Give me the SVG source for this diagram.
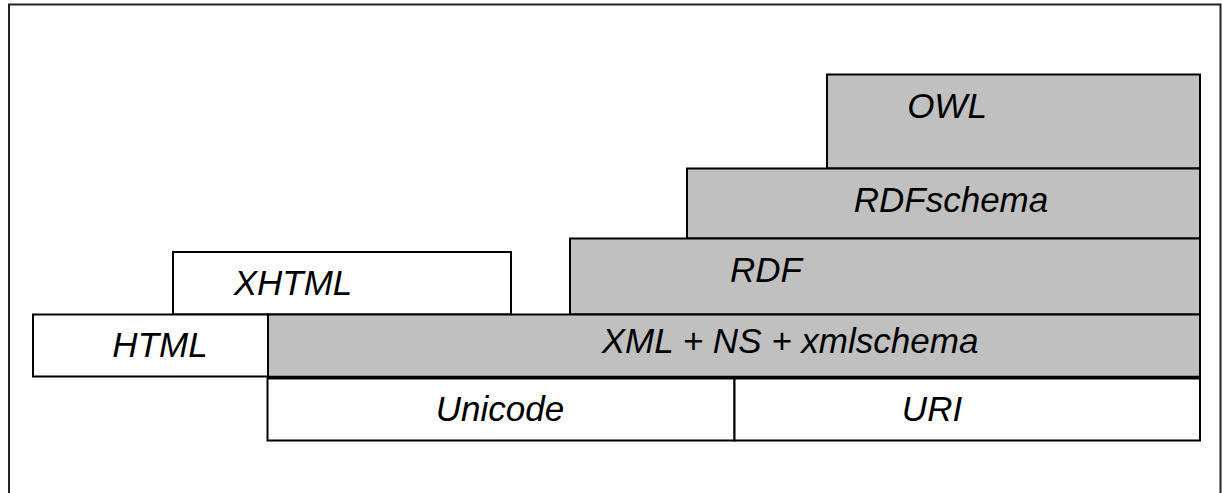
<svg xmlns="http://www.w3.org/2000/svg" width="1222" height="493" viewBox="0 0 1222 493">
  <style>
    .box { stroke: #000; stroke-width: 2; }
    .layer { fill: #c0c0c0; }
    .plain { fill: #fff; }
    .lbl { font-family: "Liberation Sans", Arial, sans-serif; font-style: italic; font-size: 35px; fill: #000; text-anchor: middle; }
  </style>
  <rect width="1222" height="493" fill="#fff"/>
  <!-- outer frame -->
  <rect x="9" y="4.5" width="1211.5" height="500" fill="none" stroke="#222" stroke-width="2"/>

  <g id="owl">
    <rect class="box layer" x="827" y="74.5" width="373" height="94"/>
    <text class="lbl" x="947" y="118">OWL</text>
  </g>
  <g id="rdfschema">
    <rect class="box layer" x="687" y="168.5" width="513" height="70"/>
    <text class="lbl" x="951" y="212">RDFschema</text>
  </g>
  <g id="rdf">
    <rect class="box layer" x="570" y="238.5" width="630" height="76"/>
    <text class="lbl" x="766" y="282">RDF</text>
  </g>
  <g id="xhtml">
    <rect class="box plain" x="173" y="252" width="338" height="62.5"/>
    <text class="lbl" x="293" y="295">XHTML</text>
  </g>
  <g id="html">
    <rect class="box plain" x="33" y="314.5" width="235" height="62"/>
    <text class="lbl" x="160" y="357">HTML</text>
  </g>
  <g id="xml">
    <rect class="box layer" x="268" y="314.5" width="932" height="63"/>
    <line x1="268" y1="377.5" x2="1200" y2="377.5" stroke="#000" stroke-width="3.5"/>
    <text class="lbl" x="790" y="353">XML + NS + xmlschema</text>
  </g>
  <g id="unicode">
    <rect class="box plain" x="267.5" y="378.5" width="467" height="62"/>
    <text class="lbl" x="500" y="421">Unicode</text>
  </g>
  <g id="uri">
    <rect class="box plain" x="734.5" y="378.5" width="465.5" height="62"/>
    <text class="lbl" x="932" y="421">URI</text>
  </g>
  <g id="connectors"/>
</svg>
